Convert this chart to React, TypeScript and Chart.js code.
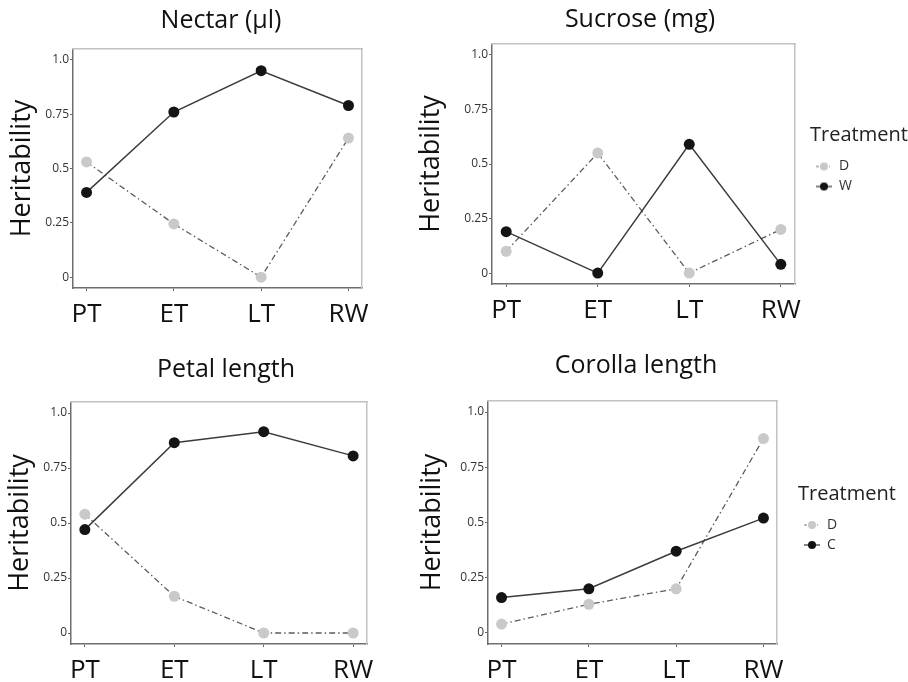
import React, { useEffect, useMemo, useRef } from 'react';
import { Chart, registerables } from 'chart.js';

Chart.register(...registerables);

const FONT = "'Open Sans', sans-serif";

// ---------- data ----------
const categories = ['PT', 'ET', 'LT', 'RW'];
const yTickValues = [0, 0.25, 0.5, 0.75, 1.0];
const yTickLabels = ['0', '0.25', '0.5', '0.75', '1.0'];

const nectarD = [0.53, 0.245, 0.0, 0.64];
const nectarW = [0.39, 0.76, 0.95, 0.79];
const sucroseD = [0.1, 0.55, 0.0, 0.2];
const sucroseW = [0.19, 0.0, 0.59, 0.04];
const petalD = [0.54, 0.167, 0.0, 0.0];
const petalW = [0.47, 0.865, 0.915, 0.805];
const corollaD = [0.04, 0.13, 0.2, 0.88];
const corollaC = [0.16, 0.2, 0.37, 0.52];

const legendTitle = 'Treatment';
const yAxisTitle = 'Heritability';

// ---------- layout (kept separate from data) ----------
type Area = { l: number; t: number; r: number; b: number };
type Spec = {
  title: string;
  names: string[];
  d: number[];
  w: number[];
  legend: boolean;
  top: number;
  height: number;
  titleCX: number;
  legendLeft?: number;
  area: Area;
  titleCY: number;
  yTitleCX: number;
};

const PAGE_W = 908;

const panels: Spec[] = [
  {
    title: 'Nectar (µl)', names: ['D', 'W'], d: nectarD, w: nectarW, legend: false,
    titleCX: 221, top: 0, height: 341,
    area: { l: 73, t: 49, r: 362, b: 288 }, titleCY: 21, yTitleCX: 22,
  },
  {
    title: 'Sucrose (mg)', names: ['D', 'W'], d: sucroseD, w: sucroseW, legend: true,
    titleCX: 640, legendLeft: 810, top: 0, height: 341,
    area: { l: 492, t: 44, r: 795, b: 284 }, titleCY: 20, yTitleCX: 431,
  },
  {
    title: 'Petal length', names: ['D', 'W'], d: petalD, w: petalW, legend: false,
    titleCX: 226, top: 341, height: 341,
    area: { l: 71, t: 402, r: 367, b: 644 }, titleCY: 370, yTitleCX: 20,
  },
  {
    title: 'Corolla length', names: ['D', 'C'], d: corollaD, w: corollaC, legend: true,
    titleCX: 636, legendLeft: 798, top: 341, height: 341,
    area: { l: 488, t: 401, r: 777, b: 644 }, titleCY: 366, yTitleCX: 432,
  },
];

const TITLE_SIZE = 25;
const YTITLE_SIZE = 27;
const XTICK_SIZE = 26;
const YTICK_SIZE = 12;
const LEG = { pad: 6, box: 16, size: 14, titleSize: 20 };
const X_EXPAND = 0.155;

// fixes the legend box width so its title is not clipped
const legendWidthPlugin = {
  id: 'fixedLegendWidth',
  beforeLayout(chart: any, _args: any, opts: any) {
    const lg = chart.legend;
    if (!lg || !opts || !opts.width || lg.__fixedWidth) return;
    const orig = lg.fit.bind(lg);
    lg.fit = function () {
      orig();
      this.width = opts.width;
    };
    lg.__fixedWidth = true;
  },
};

function keyImage(kind: 'light' | 'dark') {
  const c = document.createElement('canvas');
  c.width = 16;
  c.height = 10;
  const g = c.getContext('2d') as CanvasRenderingContext2D;
  g.strokeStyle = kind === 'light' ? '#777777' : '#333333';
  g.lineWidth = 1.2;
  if (kind === 'light') g.setLineDash([3, 2, 1, 2]);
  g.beginPath();
  g.moveTo(0, 5);
  g.lineTo(16, 5);
  g.stroke();
  g.setLineDash([]);
  g.fillStyle = kind === 'light' ? '#c8c8c8' : '#141414';
  g.beginPath();
  g.arc(8, 5, 4, 0, Math.PI * 2);
  g.fill();
  return c;
}

function geometry(spec: Spec) {
  let left: number;
  let width: number;
  let spacer: number;
  let legendW = 0;
  if (spec.legend) {
    width = Math.round(2 * (PAGE_W - spec.titleCX));
    left = PAGE_W - width;
    legendW = PAGE_W - (spec.legendLeft as number);
    spacer = (spec.legendLeft as number) - spec.area.r;
  } else {
    left = 0;
    width = Math.round(2 * spec.titleCX);
    spacer = left + width - spec.area.r;
  }
  const top = spec.top;
  const height = spec.height;
  const tLH = TITLE_SIZE * 1.2;
  const tpt = spec.titleCY - top - tLH / 2;
  const tpb = spec.area.t - top - tpt - tLH;
  const yW = spec.area.l - left;
  const xH = top + height - spec.area.b;
  const ytp = spec.yTitleCX - left - (YTITLE_SIZE * 1.2) / 2;
  return { left, width, top, height, spacer, legendW, tpt, tpb, yW, xH, ytp };
}

const toXY = (vals: number[]) => vals.map((v, i) => ({ x: i, y: v }));

function buildConfig(spec: Spec, g: ReturnType<typeof geometry>): any {
  const tickGrid = { display: true, drawOnChartArea: false, drawTicks: true, tickLength: 3, color: '#666666', lineWidth: 1 };
  const axisBorder = { display: true, color: '#6e6e6e', width: 1.5 };
  const lightBorder = { display: true, color: '#c2c2c2', width: 1.5 };
  return {
    type: 'line',
    data: {
      datasets: [
        {
          label: spec.names[0],
          data: toXY(spec.d),
          xAxisID: 'x',
          yAxisID: 'y',
          borderColor: '#5c5c5c',
          borderWidth: 1.3,
          borderDash: [6, 3, 1.5, 3],
          pointRadius: 5.5,
          pointBackgroundColor: '#c9c9c9',
          pointBorderColor: '#c9c9c9',
          pointBorderWidth: 0,
          fill: false,
          tension: 0,
          order: 1,
        },
        {
          label: spec.names[1],
          data: toXY(spec.w),
          xAxisID: 'x',
          yAxisID: 'y',
          borderColor: '#3c3c3c',
          borderWidth: 1.5,
          pointRadius: 5.5,
          pointBackgroundColor: '#141414',
          pointBorderColor: '#141414',
          pointBorderWidth: 0,
          fill: false,
          tension: 0,
          order: 0,
        },
      ],
    },
    plugins: [legendWidthPlugin],
    options: {
      responsive: false,
      animation: false,
      devicePixelRatio: 1,
      events: [],
      layout: { padding: 0 },
      plugins: {
        fixedLegendWidth: { width: g.legendW },
        tooltip: { enabled: false },
        title: {
          display: true,
          text: spec.title,
          color: '#111111',
          font: { family: FONT, size: TITLE_SIZE, weight: 'normal' },
          padding: { top: g.tpt, bottom: g.tpb },
        },
        legend: spec.legend
          ? {
              display: true,
              position: 'right',
              align: 'center',
              fullSize: false,
              title: {
                display: true,
                text: legendTitle,
                position: 'start',
                color: '#222222',
                font: { family: FONT, size: LEG.titleSize },
                padding: { top: -3, bottom: 4 },
              },
              labels: {
                usePointStyle: true,
                pointStyleWidth: LEG.box,
                boxHeight: LEG.size,
                padding: LEG.pad,
                color: '#333333',
                font: { family: FONT, size: LEG.size },
                generateLabels: () =>
                  spec.names.map((n, i) => ({
                    text: n,
                    pointStyle: keyImage(i === 0 ? 'light' : 'dark'),
                    fillStyle: '#000',
                    strokeStyle: '#000',
                    lineWidth: 0,
                    hidden: false,
                    datasetIndex: i,
                    fontColor: '#333333',
                  })),
              },
            }
          : { display: false },
      },
      scales: {
        x: {
          type: 'linear',
          position: 'bottom',
          min: -X_EXPAND,
          max: categories.length - 1 + X_EXPAND,
          afterBuildTicks: (s: any) => {
            s.ticks = categories.map((_, i) => ({ value: i }));
          },
          afterFit: (s: any) => {
            s.height = g.xH;
          },
          ticks: {
            autoSkip: false,
            maxRotation: 0,
            padding: 8,
            color: '#111111',
            font: { family: FONT, size: XTICK_SIZE },
            callback: (_v: any, i: number) => categories[i],
          },
          grid: tickGrid,
          border: axisBorder,
        },
        y: {
          type: 'linear',
          position: 'left',
          min: -0.05,
          max: 1.05,
          afterBuildTicks: (s: any) => {
            s.ticks = yTickValues.map((v) => ({ value: v }));
          },
          afterFit: (s: any) => {
            s.width = g.yW;
          },
          ticks: {
            padding: 1,
            color: '#333333',
            font: { family: FONT, size: YTICK_SIZE },
            callback: (_v: any, i: number) => yTickLabels[i],
          },
          grid: tickGrid,
          border: axisBorder,
          title: {
            display: true,
            text: yAxisTitle,
            color: '#111111',
            font: { family: FONT, size: YTITLE_SIZE },
            padding: { top: g.ytp, bottom: 0 },
          },
        },
        xTop: {
          type: 'linear',
          position: 'top',
          min: 0,
          max: 1,
          ticks: { display: false },
          grid: { display: false },
          border: lightBorder,
          afterFit: (s: any) => {
            s.height = 0;
          },
        },
        yRight: {
          type: 'linear',
          position: 'right',
          min: 0,
          max: 1,
          ticks: { display: false },
          grid: { display: false },
          border: lightBorder,
          afterFit: (s: any) => {
            s.width = g.spacer;
          },
        },
      },
    },
  };
}

function Panel({ spec }: { spec: Spec }) {
  const ref = useRef<HTMLCanvasElement | null>(null);
  const g = useMemo(() => geometry(spec), [spec]);
  useEffect(() => {
    if (!ref.current) return;
    const chart = new Chart(ref.current, buildConfig(spec, g));
    return () => chart.destroy();
  }, [spec, g]);
  return (
    <canvas
      ref={ref}
      width={g.width}
      height={g.height}
      style={{ position: 'absolute', left: g.left, top: g.top, width: g.width, height: g.height }}
    />
  );
}

export default function App() {
  return (
    <div style={{ position: 'absolute', left: 0, top: 0, width: PAGE_W, height: 682, background: '#ffffff', overflow: 'hidden' }}>
      {panels.map((p) => (
        <Panel key={p.title} spec={p} />
      ))}
    </div>
  );
}
